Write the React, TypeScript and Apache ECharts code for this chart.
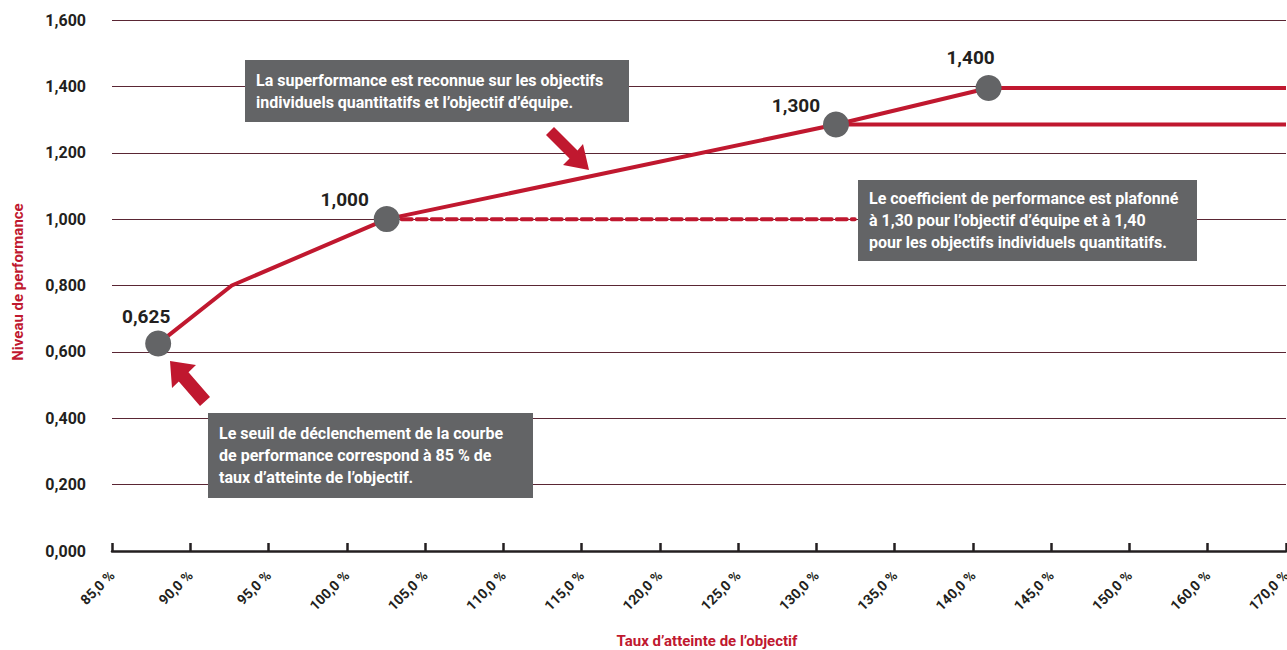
import React, { useEffect, useRef } from "react";
import * as echarts from "echarts";

const xTickLabels = [
  "85,0 %", "90,0 %", "95,0 %", "100,0 %", "105,0 %", "110,0 %", "115,0 %", "120,0 %",
  "125,0 %", "130,0 %", "135,0 %", "140,0 %", "145,0 %", "150,0 %", "160,0 %", "170,0 %",
];
const yTickLabels = ["0,000", "0,200", "0,400", "0,600", "0,800", "1,000", "1,200", "1,400", "1,600"];

// x is a position along the category ticks (0 = 85,0 %, 15 = 170,0 %)
const mainCurve: [number, number][] = [
  [0.59, 0.625], [1.53, 0.8], [3.51, 1.0], [9.25, 1.285], [11.2, 1.395], [15, 1.395],
];
const teamCap: [number, number][] = [[9.25, 1.285], [15, 1.285]];
const dashedRef: [number, number][] = [[3.51, 1.0], [9.49, 1.0]];
const keyPoints: [number, number][] = [[0.59, 0.625], [3.51, 1.0], [9.25, 1.285], [11.2, 1.395]];
const keyLabels = ["0,625", "1,000", "1,300", "1,400"];
const keyLabelOffsets: [number, number][] = [[-12, 0], [-42, 8], [-40, 8], [-18, -3]];

const note1 = ["La superformance est reconnue sur les objectifs", "individuels quantitatifs et l\u2019objectif d\u2019\u00e9quipe."];
const note2 = ["Le seuil de d\u00e9clenchement de la courbe", "de performance correspond \u00e0 85 % de", "taux d\u2019atteinte de l\u2019objectif."];
const note3 = ["Le coefficient de performance est plafonn\u00e9", "\u00e0 1,30 pour l\u2019objectif d\u2019\u00e9quipe et \u00e0 1,40", "pour les objectifs individuels quantitatifs."];

const FONT = "Roboto, 'Liberation Sans', sans-serif";
const RED = "#c0182f";
const GREY = "#636466";
const DARK = "#231f20";
const NOTE_FONT = `bold 16px ${FONT}`;

function measure(lines: string[], font: string) {
  const ctx = document.createElement("canvas").getContext("2d");
  if (!ctx) return 1;
  ctx.font = font;
  return Math.max(...lines.map((l) => ctx.measureText(l).width));
}

function noteBox(x: number, y: number, w: number, h: number, lines: string[], textW: number) {
  const mw = measure(lines, NOTE_FONT);
  const s = Math.min(1, textW / mw);
  return {
    type: "group",
    x,
    y,
    z: 100,
    children: [
      { type: "rect", z: 100, shape: { x: 0, y: 0, width: w, height: h }, style: { fill: GREY } },
      {
        type: "text",
        z: 101,
        x: 11,
        y: h / 2,
        scaleX: s,
        style: {
          text: lines.join("\n"),
          fill: "#ffffff",
          font: NOTE_FONT,
          lineHeight: 22,
          verticalAlign: "middle",
          align: "left",
        },
      },
    ],
  };
}

export default function App() {
  const ref = useRef<HTMLDivElement>(null);
  useEffect(() => {
    if (!ref.current) return;
    const chart = echarts.init(ref.current, null, { renderer: "svg" });
    chart.setOption({
      animation: false,
      grid: { left: 112, right: 1, top: 20, bottom: 99, outerBoundsMode: "none", containLabel: false },
      xAxis: {
        type: "value",
        min: 0,
        max: 15,
        interval: 1,
        axisLine: { show: true, onZero: false, lineStyle: { color: DARK, width: 2.5 } },
        axisTick: { show: true, inside: true, length: 8, lineStyle: { color: DARK, width: 2.5 } },
        splitLine: { show: false },
        axisLabel: {
          rotate: 45,
          margin: 22,
          color: DARK,
          fontFamily: FONT,
          fontWeight: "bold",
          fontSize: 14,
          showMinLabel: true,
          showMaxLabel: true,
          formatter: (v: number) => xTickLabels[Math.round(v)] ?? "",
        },
      },
      yAxis: {
        type: "value",
        min: 0,
        max: 1.6,
        interval: 0.2,
        axisLine: { show: false },
        axisTick: { show: false },
        splitLine: { show: true, lineStyle: { color: "#5a2634", width: 1.2 } },
        axisLabel: {
          margin: 26,
          color: DARK,
          fontFamily: FONT,
          fontWeight: "bold",
          fontSize: 16,
          formatter: (v: number) => yTickLabels[Math.round(v / 0.2)] ?? "",
        },
      },
      series: [
        {
          type: "line",
          data: dashedRef,
          showSymbol: false,
          lineStyle: { color: RED, width: 4, type: [10, 5], cap: "round" },
          z: 2,
        },
        {
          type: "line",
          data: teamCap,
          showSymbol: false,
          lineStyle: { color: RED, width: 4 },
          z: 2,
        },
        {
          type: "line",
          data: mainCurve,
          showSymbol: false,
          lineStyle: { color: RED, width: 4 },
          z: 3,
        },
        {
          type: "scatter",
          data: keyPoints.map((p, i) => ({
            value: p,
            label: { offset: keyLabelOffsets[i] },
          })),
          symbolSize: 26,
          itemStyle: { color: GREY, opacity: 1 },
          z: 4,
          label: {
            show: true,
            position: "top",
            color: DARK,
            fontFamily: FONT,
            fontWeight: "bold",
            fontSize: 19,
            formatter: (p: any) => keyLabels[p.dataIndex],
          },
        },
      ],
      graphic: [
        noteBox(245, 60, 384, 62, note1, 356),
        noteBox(208, 413, 325, 85, note2, 285),
        noteBox(858, 180, 339, 81, note3, 319),
        {
          type: "polygon",
          z: 100,
          shape: {
            points: [[170, 361], [196, 365], [188.5, 372.2], [210, 397], [200, 406], [178.8, 381.5], [172, 388]],
          },
          style: { fill: RED },
        },
        {
          type: "polygon",
          z: 100,
          shape: {
            points: [[546, 135], [554, 127], [577.5, 150.5], [583, 144], [589, 170], [563, 165], [569.5, 158.5]],
          },
          style: { fill: RED },
        },
        {
          type: "text",
          x: 18,
          y: 282,
          rotation: Math.PI / 2,
          style: {
            text: "Niveau de performance",
            fill: RED,
            font: `bold 15px ${FONT}`,
            align: "center",
            verticalAlign: "middle",
          },
        },
        {
          type: "text",
          x: 707,
          y: 641,
          style: {
            text: "Taux d\u2019atteinte de l\u2019objectif",
            fill: RED,
            font: `bold 15px ${FONT}`,
            align: "center",
            verticalAlign: "middle",
          },
        },
      ],
    });
    return () => chart.dispose();
  }, []);
  return (
    <div
      ref={ref}
      style={{ position: "fixed", left: 0, top: 0, width: 1287, height: 650, background: "#ffffff" }}
    />
  );
}
